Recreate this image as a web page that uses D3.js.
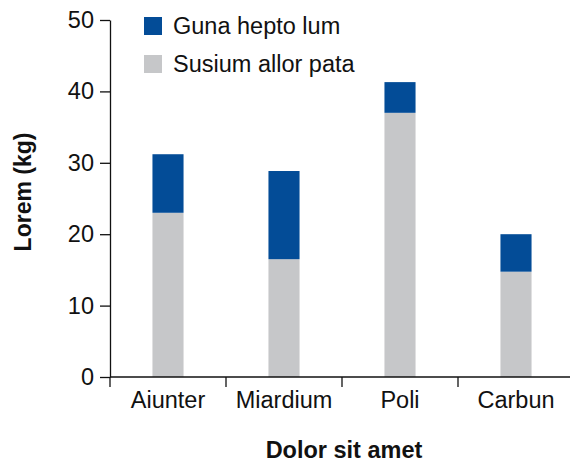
<!DOCTYPE html>
<html lang="en">
<head>
  <meta charset="UTF-8">
  <title>Stacked bars</title>
  <style>
    body { margin: 0; background: #fff; }
    svg { display: block; font-family: "Liberation Sans", Arial, sans-serif; }
    .axis text { font-size: 23.5px; fill: #111; }
    .axis path, .axis line { stroke: #111; stroke-width: 1.3px; }
  </style>
  <script src="https://d3js.org/d3.v7.min.js"></script>
</head>
<body>
  <div id="chart"></div>
  <script>
  // data
  const categories = ['Aiunter', 'Miardium', 'Poli', 'Carbun'];
  const grayVals = [23.0, 16.5, 37.0, 14.75];   // Susium allor pata (bottom)
  const blueVals = [8.2, 12.35, 4.3, 5.25];     // Guna hepto lum (top)
  const yTicks = [0, 10, 20, 30, 40, 50];
  const seriesNames = ['Guna hepto lum', 'Susium allor pata'];
  const seriesColors = ['#034c97', '#c6c7c9'];

  const W = 572, H = 463;
  const m = { l: 110, r: -2, t: 20, b: 86 };

  const svg = d3.select('#chart').append('svg')
    .attr('width', W).attr('height', H);

  const x = d3.scaleBand().domain(categories)
    .range([m.l, W - m.r]).paddingInner(0.732).paddingOuter(0.366);
  const xEdge = d3.scaleBand().domain(categories)
    .range([m.l, W - m.r]).padding(0);
  const y = d3.scaleLinear().domain([0, 50]).range([H - m.b, m.t]);

  const rows = categories.map((c, i) => ({ cat: c, gray: grayVals[i], blue: blueVals[i] }));
  const stack = d3.stack().keys(['gray', 'blue'])(rows);
  const colorOf = { gray: seriesColors[1], blue: seriesColors[0] };

  svg.append('g').selectAll('g').data(stack).join('g')
      .attr('fill', s => colorOf[s.key])
    .selectAll('rect').data(s => s).join('rect')
      .attr('x', d => x(d.data.cat))
      .attr('width', x.bandwidth())
      .attr('y', d => y(d[1]))
      .attr('height', d => y(d[0]) - y(d[1]));

  // y axis
  svg.append('g').attr('class', 'axis')
    .attr('transform', `translate(${m.l},0)`)
    .call(d3.axisLeft(y).tickValues(yTicks).tickSize(10).tickSizeOuter(0).tickPadding(6));

  // x axis: labels at band centers, ticks at band left edges
  const xg = svg.append('g').attr('class', 'axis')
    .attr('transform', `translate(0,${y(0)})`)
    .call(d3.axisBottom(x).tickSize(0).tickSizeOuter(0).tickPadding(14));
  xg.selectAll('.tick line').remove();
  xg.select('.domain').attr('d', `M${m.l},0H570`);
  xg.selectAll('line.edge').data(categories).join('line')
    .attr('class', 'edge')
    .attr('x1', d => xEdge(d)).attr('x2', d => xEdge(d))
    .attr('y1', 0).attr('y2', 10);

  // axis titles
  svg.append('text')
    .attr('x', 344).attr('y', 458)
    .attr('text-anchor', 'middle')
    .style('font-size', '23.5px').style('font-weight', 'bold').attr('fill', '#111')
    .text('Dolor sit amet');
  svg.append('text')
    .attr('transform', 'translate(31,192) rotate(-90)')
    .attr('text-anchor', 'middle')
    .style('font-size', '23px').style('font-weight', 'bold').attr('fill', '#111')
    .text('Lorem (kg)');

  // legend
  const lg = svg.append('g').selectAll('g').data(seriesNames).join('g')
    .attr('transform', (d, i) => `translate(144,${17 + i * 38})`);
  lg.append('rect').attr('width', 18).attr('height', 18)
    .attr('fill', (d, i) => seriesColors[i]);
  lg.append('text').attr('x', 29).attr('y', 9).attr('dy', '0.35em')
    .style('font-size', '23.5px').attr('fill', '#111')
    .text(d => d);
  </script>
</body>
</html>
